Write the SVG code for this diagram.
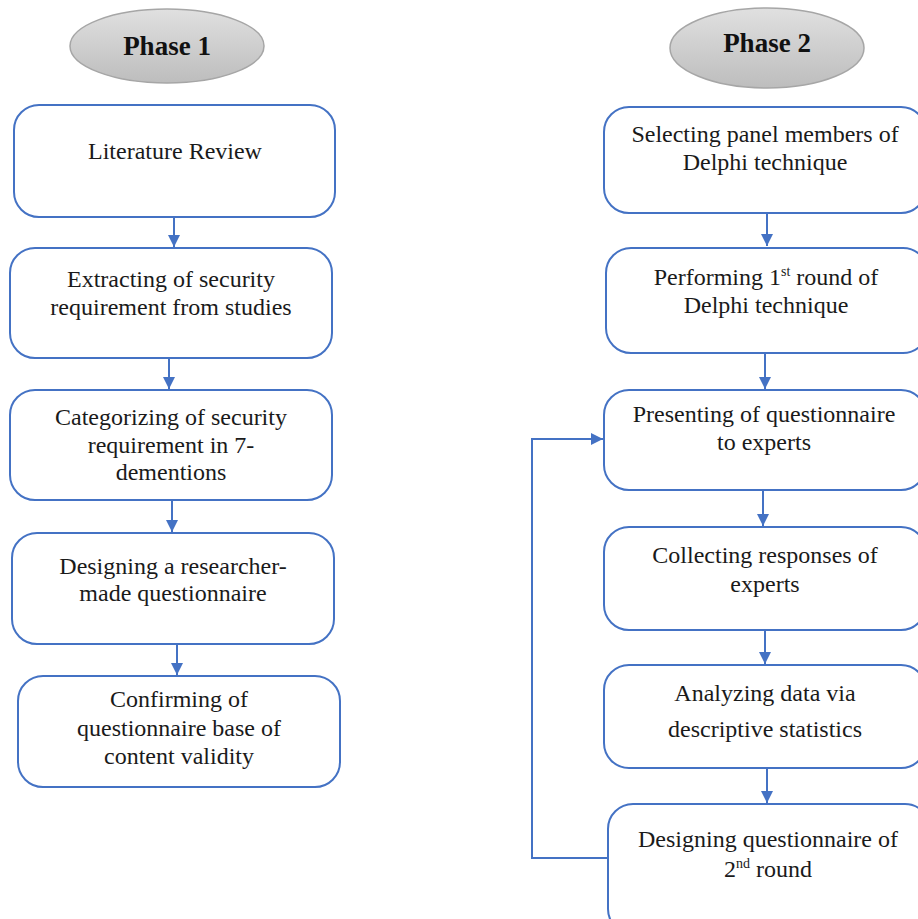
<svg xmlns="http://www.w3.org/2000/svg" width="918" height="919" viewBox="0 0 918 919">
<defs>
<linearGradient id="g" x1="0" y1="0" x2="0" y2="1">
<stop offset="0" stop-color="#e0e0e0"/>
<stop offset="1" stop-color="#bdbdbd"/>
</linearGradient>
<marker id="ah" viewBox="0 0 10 10" refX="10" refY="5" markerWidth="12" markerHeight="12" markerUnits="userSpaceOnUse" orient="auto">
<path d="M0,0 L10,5 L0,10 z" fill="#4472C4"/>
</marker>
<style>
.box{fill:#fff;stroke:#4472C4;stroke-width:2}
.ph{fill:url(#g);stroke:#a6a6a6;stroke-width:1.5}
.pt{font-family:'Liberation Serif','Times New Roman','DejaVu Serif',serif;font-weight:bold;font-size:27px;text-anchor:middle;fill:#111}
.t{font-family:'Liberation Serif','Times New Roman','DejaVu Serif',serif;font-size:24px;text-anchor:middle;fill:#1a1a1a}
.c{fill:none;stroke:#4472C4;stroke-width:2;marker-end:url(#ah)}
.sup{font-size:14px}
</style>
</defs>
<rect width="918" height="919" fill="#fff"/>
<g id="phase1"><ellipse class="ph" cx="167" cy="46" rx="97" ry="37"/><text class="pt" x="167" y="55">Phase 1</text></g>
<g id="phase2"><ellipse class="ph" cx="767" cy="48" rx="97" ry="40"/><text class="pt" x="767" y="52">Phase 2</text></g>

<g id="l1"><rect class="box" x="14" y="105" width="321" height="112" rx="25"/><text class="t" x="175" y="159">Literature Review</text></g>
<g id="l2"><rect class="box" x="10" y="248" width="322" height="110" rx="25"/><text class="t" x="171" y="287">Extracting of security</text><text class="t" x="171" y="315">requirement from studies</text></g>
<g id="l3"><rect class="box" x="10" y="390" width="322" height="110" rx="25"/><text class="t" x="171" y="425">Categorizing of security</text><text class="t" x="171" y="453">requirement in 7-</text><text class="t" x="171" y="480">dementions</text></g>
<g id="l4"><rect class="box" x="12" y="533" width="322" height="111" rx="25"/><text class="t" x="173" y="574">Designing a researcher-</text><text class="t" x="173" y="601">made questionnaire</text></g>
<g id="l5"><rect class="box" x="18" y="676" width="322" height="111" rx="25"/><text class="t" x="179" y="707">Confirming of</text><text class="t" x="179" y="736">questionnaire base of</text><text class="t" x="179" y="764">content validity</text></g>

<g id="r1"><rect class="box" x="604" y="107" width="322" height="106" rx="25"/><text class="t" x="765" y="142">Selecting panel members of</text><text class="t" x="765" y="170">Delphi technique</text></g>
<g id="r2"><rect class="box" x="606" y="248" width="322" height="105" rx="25"/><text class="t" x="766" y="285">Performing 1<tspan class="sup" dy="-9">st</tspan><tspan dy="9"> round of</tspan></text><text class="t" x="766" y="313">Delphi technique</text></g>
<g id="r3"><rect class="box" x="604" y="390" width="322" height="100" rx="25"/><text class="t" x="764" y="422">Presenting of questionnaire</text><text class="t" x="764" y="450">to experts</text></g>
<g id="r4"><rect class="box" x="604" y="527" width="322" height="103" rx="25"/><text class="t" x="765" y="563">Collecting responses of</text><text class="t" x="765" y="592">experts</text></g>
<g id="r5"><rect class="box" x="604" y="665" width="322" height="103" rx="25"/><text class="t" x="765" y="701">Analyzing data via</text><text class="t" x="765" y="737">descriptive statistics</text></g>
<g id="r6"><rect class="box" x="608" y="804" width="322" height="130" rx="25"/><text class="t" x="768" y="847">Designing questionnaire of</text><text class="t" x="768" y="877">2<tspan class="sup" dy="-9">nd</tspan><tspan dy="9"> round</tspan></text></g>

<g id="connectors">
<path class="c" d="M174,217 V247"/>
<path class="c" d="M169,358 V389"/>
<path class="c" d="M172,500 V532"/>
<path class="c" d="M177,644 V675"/>
<path class="c" d="M767,213 V246"/>
<path class="c" d="M765,353 V389"/>
<path class="c" d="M763,490 V526"/>
<path class="c" d="M765,630 V664"/>
<path class="c" d="M767,768 V803"/>
<path class="c" d="M608,858 H532 V439 H603"/>
</g>
</svg>
